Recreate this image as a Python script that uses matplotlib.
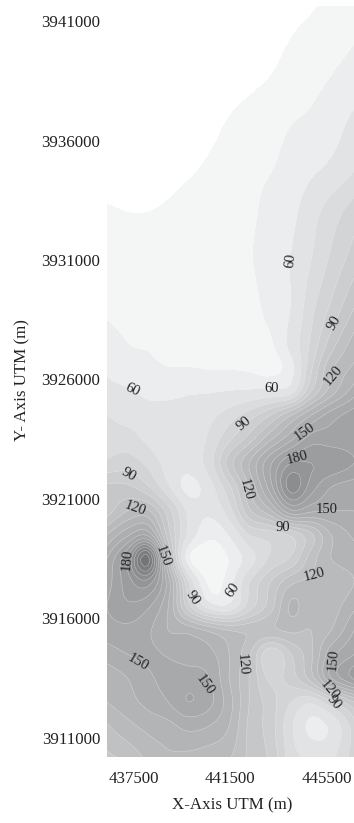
import numpy as np
import matplotlib
matplotlib.use('Agg')
import matplotlib.pyplot as plt

plt.rcParams['font.family'] = ['Liberation Serif', 'DejaVu Serif']

x_utm = [436380, 437230, 438060, 438920, 439750, 440620, 441450,
         442280, 443150, 444020, 444850, 445680, 446630]
y_utm = [3910200, 3911500, 3912500, 3913500, 3914500, 3915500, 3916500,
         3917500, 3918500, 3919500, 3920500, 3921500, 3922500, 3923500,
         3924500, 3925500, 3926500, 3927500, 3929000, 3931000, 3933000,
         3935000, 3937000, 3939000, 3941630]

# values, one row per y_utm
depth = [
    [108, 113, 122, 128, 127, 124, 121, 108,  98,  75,  68,  68,  85],
    [119, 127, 133, 137, 143, 140, 130, 108,  95,  72,  57,  62,  85],
    [130, 136, 143, 150, 160, 153, 134, 110,  95,  80,  72,  88, 110],
    [133, 140, 148, 153, 155, 150, 130, 110,  88,  95, 115, 150, 172],
    [145, 150, 152, 149, 145, 143, 130, 112,  82, 100, 118, 146, 160],
    [155, 157, 152, 140, 137, 128, 120, 118, 118, 122, 120, 130, 150],
    [160, 168, 162, 140,  95,  65,  62,  85, 105, 132, 122, 125, 138],
    [155, 175, 185, 145,  82,  47,  55,  80, 100, 118, 122, 122, 130],
    [150, 180, 225, 125,  52,  43,  50,  65,  82,  92, 115, 130, 135],
    [130, 148, 158, 105,  68,  52,  60,  80,  85,  92, 108, 130, 142],
    [105, 120, 122,  95,  68,  62,  76, 108, 128, 158, 152, 150, 150],
    [102, 102,  92,  72,  56,  66,  88, 120, 155, 195, 175, 160, 155],
    [ 82,  85,  78,  66,  64,  75, 105, 130, 158, 180, 180, 178, 170],
    [ 75,  75,  68,  63,  63,  72,  88, 105, 128, 148, 165, 165, 165],
    [ 70,  66,  63,  62,  62,  67,  75,  85, 100, 120, 140, 155, 165],
    [ 63,  61,  58,  58,  59,  59,  60,  61,  62,  66, 100, 125, 145],
    [ 58,  53,  52,  50,  50,  49,  49,  48,  46,  56,  88, 118, 132],
    [ 54,  50,  49,  47,  46,  45,  44,  45,  48,  63,  82, 105, 125],
    [ 48,  46,  44,  43,  42,  42,  43,  46,  53,  60,  77,  92, 110],
    [ 43,  42,  42,  42,  42,  43,  45,  49,  54,  60,  70,  82,  95],
    [ 41,  40,  40,  41,  43,  45,  47,  48,  53,  57,  66,  75,  85],
    [ 33,  33,  34,  36,  38,  41,  44,  47,  49,  53,  57,  61,  68],
    [ 27,  27,  28,  30,  32,  36,  40,  43,  46,  49,  51,  55,  61],
    [ 22,  22,  23,  25,  27,  30,  33,  36,  39,  43,  46,  49,  53],
    [ 18,  18,  19,  20,  22,  25,  28,  31,  34,  37,  39,  42,  45],
]

levels = [-50, 40, 50, 60, 70, 80, 90, 100, 110, 120, 130, 140, 150, 160,
          170, 180, 190, 200, 210, 220, 230, 260]
band_colors = ['#ffffff', '#f4f5f5', '#ecedee', '#e2e3e5', '#dbdcde', '#d3d4d6',
               '#cdced0', '#c6c7c9', '#c0c1c3', '#b9babc', '#b3b4b6', '#adaeb0',
               '#a8a9ab', '#a2a3a5', '#9c9d9f', '#949597', '#8c8d8f', '#848587',
               '#7c7d7f', '#747577', '#6c6d6f']

x_ticks = [437500, 441500, 445500]
y_ticks = [3911000, 3916000, 3921000, 3926000, 3931000, 3936000, 3941000]

label_text = ['60', '60', '90', '120', '90', '150', '180', '120', '60', '90',
              '120', '150', '90', '150', '180', '120', '90', '60',
              '120', '150', '150', '150', '120', '90']
label_x = [444015, 437417, 445800, 445757, 437290, 444600, 444300, 442150, 443225, 442065,
           437540, 445500, 443680, 438700, 437210, 444970, 439950, 441610,
           441980, 437666, 440450, 445760, 445630, 445800]
label_y = [3931000, 3925560, 3928360, 3926190, 3922000, 3923800, 3922715, 3921380, 3925640, 3924140,
           3920620, 3920540, 3919790, 3918615, 3918450, 3917820, 3916860, 3917190,
           3914050, 3914140, 3913220, 3914260, 3913010, 3912500]
label_rot = [85, -25, 60, 50, -30, 35, 15, -75, 0, 40,
             -20, 0, 0, -70, 85, 15, -55, 55,
             -85, -30, -55, 85, -50, -50]


def smooth_axis(z, n):
    # catmull-rom along the first axis, only so the contours are not angular
    m = z.shape[0]
    t = np.linspace(0, m - 1, (m - 1) * n + 1)
    i = np.minimum(t.astype(int), m - 2)
    u = (t - i).reshape((-1,) + (1,) * (z.ndim - 1))
    p0 = z[np.maximum(i - 1, 0)]
    p1 = z[i]
    p2 = z[i + 1]
    p3 = z[np.minimum(i + 2, m - 1)]
    return 0.5 * (2 * p1 + (p2 - p0) * u + (2 * p0 - 5 * p1 + 4 * p2 - p3) * u ** 2
                  + (3 * p1 - p0 - 3 * p2 + p3) * u ** 3)


x_utm = np.array(x_utm, dtype=float)
y_utm = np.array(y_utm, dtype=float)
depth = np.array(depth, dtype=float)

n = 6
x_fine = smooth_axis(x_utm, n)
y_fine = smooth_axis(y_utm, n)
z_fine = smooth_axis(smooth_axis(depth, n).T, n).T

fig = plt.figure(figsize=(3.54, 8.23), dpi=100)
ax = fig.add_axes([107 / 354, 66 / 823, 247 / 354, 751 / 823])

ax.contourf(x_fine, y_fine, z_fine, levels=levels, colors=band_colors)
ax.contour(x_fine, y_fine, z_fine, levels=levels[4:-1], colors='white', linewidths=0.35, alpha=0.55)

for txt, lx, ly, rot in zip(label_text, label_x, label_y, label_rot):
    ax.text(lx, ly, txt, fontsize=10.5, color='#222222', rotation=rot,
            ha='center', va='center', rotation_mode='anchor')

ax.set_xlim(436380, 446630)
ax.set_ylim(3910200, 3941630)
ax.set_xticks(x_ticks)
ax.set_yticks(y_ticks)
ax.set_xticklabels([str(t) for t in x_ticks])
ax.set_yticklabels([str(t) for t in y_ticks])
ax.tick_params(length=0, labelsize=12.2, colors='#222222')
ax.tick_params(axis='x', pad=10)
ax.tick_params(axis='y', pad=5)
for s in ax.spines.values():
    s.set_visible(False)
ax.patch.set_visible(False)

fig.text(232 / 354, 1 - 805 / 823, 'X-Axis UTM (m)', fontsize=12.2, color='#222222',
         ha='center', va='center')
fig.text(22 / 354, 1 - 380 / 823, 'Y- Axis UTM (m)', fontsize=12.2, color='#222222',
         rotation=90, ha='center', va='center')

fig.savefig('out.png', dpi=100)
plt.close()
